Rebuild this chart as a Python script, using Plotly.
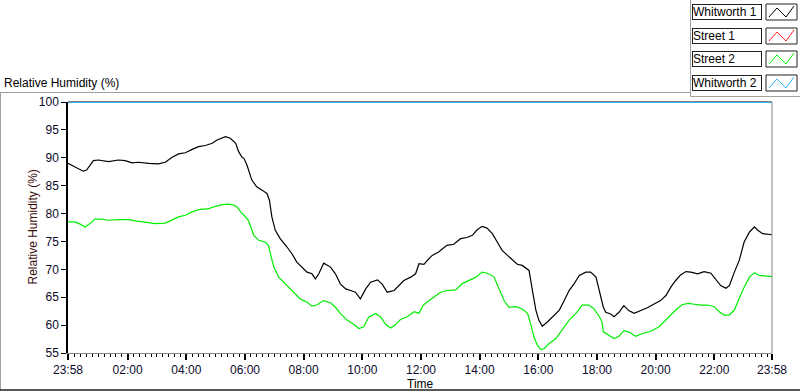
import datetime as dt
import plotly.graph_objects as go

# ---------------- data ----------------
start_time = "2000-01-01 23:58"
series_names = ["Whitworth 1", "Street 1", "Street 2", "Whitworth 2"]
series_colors = ["#000000", "#ff2020", "#00ee00", "#33b5f5"]

minutes_whitworth1 = [0, 14, 31, 38, 52, 62, 83, 103, 117, 131, 144, 165, 185, 199, 213, 226, 240, 254, 267, 281,
                      295, 305, 315, 322, 332, 343, 349, 356, 360, 366, 376, 386, 397, 407, 412, 417, 424, 434, 448,
                      458, 468, 479, 489, 499, 506, 513, 523, 537, 547, 557, 568, 578, 588, 598, 609, 619, 633, 643,
                      653, 667, 677, 687, 701, 711, 718, 728, 734, 745, 758, 775, 789, 803, 816, 827, 837, 847, 857,
                      868, 878, 888, 899, 909, 919, 929, 943, 950, 957, 963, 970, 981, 994, 1005, 1015, 1025, 1035,
                      1046, 1059, 1069, 1080, 1087, 1095, 1100, 1110, 1117, 1127, 1137, 1147, 1158, 1171, 1185, 1199,
                      1212, 1223, 1233, 1243, 1253, 1264, 1274, 1288, 1301, 1315, 1325, 1335, 1346, 1353, 1363, 1373,
                      1383, 1394, 1404, 1411, 1421, 1431, 1440]
rh_whitworth1 = [89.0, 88.4, 87.6, 87.8, 89.5, 89.6, 89.3, 89.6, 89.5, 89.1, 89.2, 89.0, 88.9, 89.2, 90.1, 90.7, 90.9,
                 91.5, 92.0, 92.2, 92.6, 93.2, 93.5, 93.8, 93.5, 92.6, 91.1, 90.1, 89.9, 88.7, 86.0, 84.8, 84.2, 83.6,
                 82.4, 79.4, 77.0, 75.5, 74.0, 72.8, 71.3, 70.4, 69.5, 69.2, 68.3, 69.2, 71.1, 70.4, 69.2, 67.4, 66.5,
                 66.2, 65.9, 64.7, 66.5, 67.7, 68.1, 67.3, 65.9, 66.2, 67.1, 68.0, 68.6, 69.2, 71.0, 70.9, 71.5, 72.5,
                 73.1, 74.3, 74.5, 75.5, 75.7, 76.1, 77.1, 77.7, 77.4, 76.4, 74.9, 73.4, 72.5, 71.7, 70.9, 70.7, 69.8,
                 66.2, 62.7, 60.9, 59.8, 60.6, 61.8, 62.7, 64.4, 66.2, 67.4, 68.9, 69.5, 69.5, 68.6, 66.2, 63.2, 62.3,
                 62.0, 61.5, 62.3, 63.5, 62.6, 62.1, 62.6, 63.1, 63.8, 64.4, 65.3, 66.8, 68.0, 69.0, 69.6, 69.5, 69.2,
                 69.6, 69.3, 68.3, 67.1, 66.6, 67.1, 69.5, 71.6, 74.9, 76.7, 77.6, 77.0, 76.4, 76.3, 76.2]

minutes_street2 = [0, 14, 25, 35, 45, 55, 69, 83, 103, 124, 138, 158, 179, 199, 213, 226, 240, 254, 267, 288, 302,
                   315, 329, 339, 346, 353, 360, 369, 380, 390, 403, 410, 414, 421, 431, 441, 451, 462, 475, 489, 499,
                   509, 523, 537, 547, 557, 571, 585, 595, 605, 615, 629, 639, 650, 660, 670, 680, 694, 708, 718, 726,
                   734, 748, 762, 775, 793, 806, 820, 834, 847, 857, 871, 881, 892, 902, 916, 929, 940, 946, 953, 960,
                   967, 974, 984, 998, 1011, 1025, 1039, 1052, 1066, 1076, 1087, 1092, 1095, 1106, 1117, 1127, 1137,
                   1147, 1161, 1175, 1192, 1209, 1226, 1243, 1257, 1270, 1284, 1294, 1308, 1322, 1332, 1342, 1352,
                   1363, 1373, 1383, 1394, 1404, 1414, 1428, 1440]
rh_street2 = [78.5, 78.5, 78.1, 77.6, 78.2, 79.0, 79.0, 78.8, 78.9, 78.9, 78.7, 78.4, 78.2, 78.3, 78.8, 79.4, 79.7,
              80.3, 80.7, 80.9, 81.3, 81.6, 81.7, 81.5, 81.2, 80.3, 79.7, 78.8, 76.1, 75.2, 74.9, 74.3, 72.8, 70.4,
              68.6, 67.7, 66.8, 65.9, 64.7, 64.1, 63.4, 63.6, 64.4, 64.0, 63.2, 62.1, 60.9, 60.1, 59.4, 59.7, 61.4,
              62.1, 61.5, 60.1, 59.5, 60.1, 61.0, 61.5, 62.4, 62.1, 63.5, 64.1, 65.0, 65.9, 66.2, 66.3, 67.4, 68.0,
              68.6, 69.5, 69.3, 68.7, 66.8, 64.4, 63.2, 63.3, 62.9, 62.1, 60.3, 57.9, 56.4, 55.6, 55.8, 56.7, 57.6,
              59.1, 60.9, 62.1, 63.6, 63.6, 62.9, 61.5, 60.6, 58.8, 58.2, 57.6, 58.0, 59.0, 58.8, 58.0, 58.5, 58.9,
              59.7, 61.2, 62.7, 63.7, 63.9, 63.7, 63.6, 63.6, 63.3, 62.4, 61.8, 61.8, 62.7, 64.8, 66.8, 68.6, 69.4,
              68.9, 68.8, 68.7]

minutes_street1 = []
rh_street1 = []

minutes_whitworth2 = [0, 1440]
rh_whitworth2 = [100.0, 100.0]

tick_minutes = [0, 122, 242, 362, 482, 602, 722, 842, 962, 1082, 1202, 1322, 1440]
tick_labels = ["23:58", "02:00", "04:00", "06:00", "08:00", "10:00", "12:00", "14:00", "16:00",
               "18:00", "20:00", "22:00", "23:58"]
y_ticks = [55, 60, 65, 70, 75, 80, 85, 90, 95, 100]

# ---------------- helpers ----------------
t0 = dt.datetime.strptime(start_time, "%Y-%m-%d %H:%M")


def to_time(mins):
    return [t0 + dt.timedelta(minutes=m) for m in mins]


W, H = 800, 392
ML, MR, MT, MB = 68, 28, 102, 39
PW, PH = W - ML - MR, H - MT - MB


def px(x):
    return (x - ML) / PW


def py(y):
    return (H - MB - y) / PH


FONT = "Liberation Sans"

fig = go.Figure()
all_x = [minutes_whitworth1, minutes_street1, minutes_street2, minutes_whitworth2]
all_y = [rh_whitworth1, rh_street1, rh_street2, rh_whitworth2]
draw_order = [3, 1, 2, 0]
for i in draw_order:
    fig.add_trace(go.Scatter(
        x=to_time(all_x[i]), y=all_y[i], mode="lines", name=series_names[i],
        line=dict(color=series_colors[i], width=1.2 if i != 3 else 2),
        cliponaxis=False, showlegend=False, hoverinfo="x+y+name"))

shapes = []
grey = "#a0a0a0"
# panel frame
shapes.append(dict(type="line", xref="paper", yref="paper", x0=px(0), x1=px(690), y0=py(92.5), y1=py(92.5),
                   line=dict(color=grey, width=1)))
shapes.append(dict(type="line", xref="paper", yref="paper", x0=px(0.5), x1=px(0.5), y0=py(92.5), y1=py(390),
                   line=dict(color=grey, width=1)))
shapes.append(dict(type="line", xref="paper", yref="paper", x0=px(0), x1=px(800), y0=py(390), y1=py(390),
                   line=dict(color="#202020", width=1.5)))
shapes.append(dict(type="line", xref="paper", yref="paper", x0=px(690.5), x1=px(690.5), y0=py(0), y1=py(96.5),
                   line=dict(color=grey, width=1)))
shapes.append(dict(type="line", xref="paper", yref="paper", x0=px(690.5), x1=px(800), y0=py(96.5), y1=py(96.5),
                   line=dict(color=grey, width=1)))
# plot frame: top line black
shapes.append(dict(type="line", xref="paper", yref="paper", x0=0, x1=1, y0=1, y1=1,
                   line=dict(color="#000000", width=1), layer="below"))

annotations = []
# custom legend
row_tops = [4, 28, 51, 75]
for i, name in enumerate(series_names):
    top = row_tops[i]
    annotations.append(dict(
        text=name, xref="paper", yref="paper", x=px(692), y=py(top), xanchor="left", yanchor="top",
        showarrow=False, align="left", width=68, height=14, bordercolor="#202020", borderwidth=1,
        borderpad=0, bgcolor="white", font=dict(family=FONT, size=12, color="#000000")))
    x0s, x1s, y0s, y1s = 766, 797, top, top + 16
    shapes.append(dict(type="rect", xref="paper", yref="paper", x0=px(x0s), x1=px(x1s), y0=py(y1s), y1=py(y0s),
                       line=dict(color="#202020", width=1), fillcolor="white"))
    pts = [(769, top + 13), (777, top + 4), (786, top + 13), (794, top + 2)]
    path = "M " + " L ".join(f"{px(a)},{py(b)}" for a, b in pts)
    shapes.append(dict(type="path", xref="paper", yref="paper", path=path,
                       line=dict(color=series_colors[i], width=1)))

annotations.append(dict(text="Relative Humidity (%)", xref="paper", yref="paper", x=px(2), y=py(83),
                        xanchor="left", yanchor="middle", showarrow=False,
                        font=dict(family=FONT, size=12, color="#000000")))
# axis titles placed explicitly
annotations.append(dict(text="Relative Humidity (%)", xref="paper", yref="paper", x=px(32), y=0.5,
                        xanchor="center", yanchor="middle", textangle=-90, showarrow=False,
                        font=dict(family=FONT, size=12, color="#3a0a0a")))
annotations.append(dict(text="Time", xref="paper", yref="paper", x=0.5, y=py(384),
                        xanchor="center", yanchor="middle", showarrow=False,
                        font=dict(family=FONT, size=12, color="#000000")))

fig.update_layout(
    width=W, height=H, margin=dict(l=ML, r=MR, t=MT, b=MB, autoexpand=False),
    paper_bgcolor="white", plot_bgcolor="white", showlegend=False,
    shapes=shapes, annotations=annotations,
    font=dict(family=FONT, size=12, color="#000000"),
    xaxis=dict(
        range=[t0, t0 + dt.timedelta(minutes=1440)], tickvals=to_time(tick_minutes), ticktext=tick_labels,
        showgrid=False, zeroline=False, showline=True, linecolor="#888888", linewidth=1, mirror=False,
        ticks="outside", ticklen=6, tickwidth=1.5, tickcolor="#000000", automargin=False,
        tickfont=dict(family=FONT, size=12, color="#0a0a2a"),
        minor=dict(dtick=720000, tick0="2000-01-02 00:00", ticks="outside", ticklen=3, tickwidth=1,
                   tickcolor="#000000", showgrid=False),
    ),
    yaxis=dict(
        range=[55, 100], tickvals=y_ticks, showgrid=False, zeroline=False, automargin=False,
        showline=True, linecolor="#000000", linewidth=1.5, ticks="outside", ticklen=5, tickwidth=1,
        tickcolor="#000000", tickfont=dict(family=FONT, size=12, color="#0a0a2a"),
    ),
)
# right spine grey
fig.add_shape(type="line", xref="paper", yref="paper", x0=1, x1=1, y0=0, y1=1, line=dict(color="#888888", width=1))

fig.write_html("out.html", config={"displayModeBar": False},
               post_script="document.body.style.margin='0px';document.body.style.overflow='hidden';")
